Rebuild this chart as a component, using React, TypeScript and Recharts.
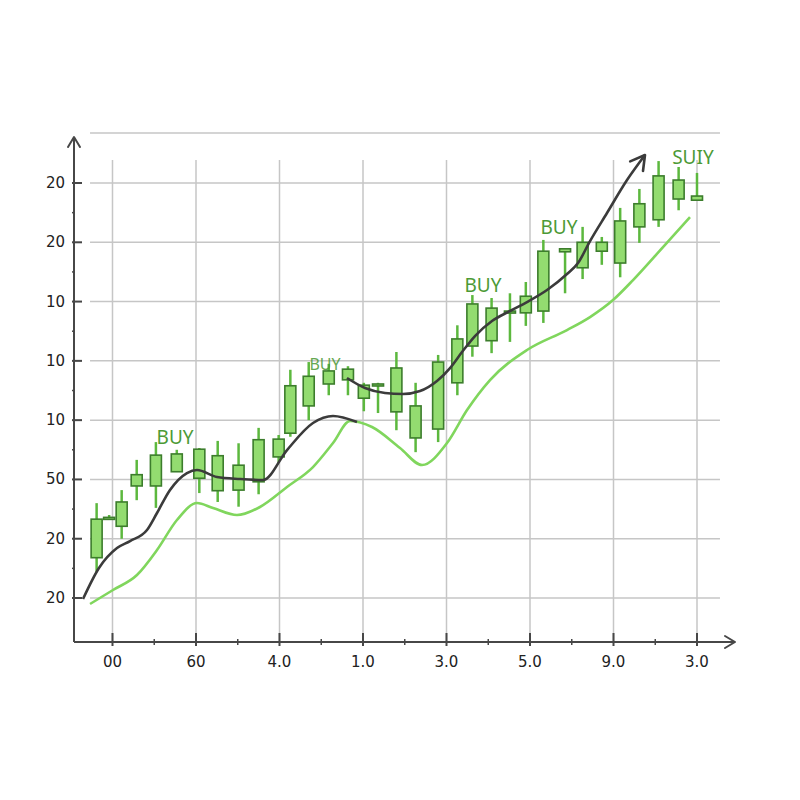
import React from 'react';
import { ComposedChart, XAxis, YAxis, Bar, Line, Scatter, ReferenceLine } from 'recharts';

// ---- candle data (time in x-grid units, prices in y-grid units) ----
const times = [-0.19, -0.04, 0.11, 0.29, 0.52, 0.77, 1.04, 1.26, 1.51, 1.75, 1.99, 2.13, 2.35, 2.59, 2.82, 3.01, 3.18, 3.4, 3.63, 3.9, 4.13, 4.31, 4.54, 4.76, 4.95, 5.16, 5.42, 5.63, 5.86, 6.08, 6.31, 6.54, 6.78, 7.0];
const opens = [1.68, 2.33, 2.21, 2.89, 2.89, 3.13, 3.02, 2.81, 2.82, 2.96, 3.38, 3.78, 4.24, 4.61, 4.68, 4.37, 4.58, 4.14, 3.7, 3.85, 4.63, 5.25, 5.34, 5.81, 5.81, 5.84, 6.84, 6.57, 6.85, 6.65, 7.26, 7.38, 7.73, 7.71];
const closes = [2.33, 2.36, 2.62, 3.08, 3.41, 3.43, 3.51, 3.4, 3.24, 3.67, 3.68, 4.58, 4.74, 4.83, 4.86, 4.59, 4.61, 4.88, 4.24, 4.98, 5.37, 5.96, 5.89, 5.84, 6.09, 6.85, 6.89, 7.0, 7.0, 7.36, 7.65, 8.12, 8.05, 7.78];
const highs = [2.6, 2.4, 2.82, 3.33, 3.63, 3.5, 3.53, 3.65, 3.61, 3.87, 3.75, 4.85, 4.98, 4.95, 4.91, 4.63, 4.63, 5.15, 4.63, 5.1, 5.6, 6.11, 6.06, 6.14, 6.33, 7.04, 6.89, 7.26, 7.09, 7.58, 7.9, 8.37, 8.27, 8.17];
const lows = [1.44, 2.33, 2.0, 2.65, 2.52, 3.13, 2.77, 2.62, 2.54, 2.75, 3.28, 3.72, 4.0, 4.42, 4.42, 4.15, 4.12, 3.83, 3.46, 3.63, 4.42, 5.07, 5.13, 5.32, 5.59, 5.64, 6.14, 6.38, 6.62, 6.41, 6.99, 7.26, 7.54, 7.7];

// ---- dark trend line (two pieces, second ends in an arrow) ----
const darkAX = [-0.353, -0.162, 0.054, 0.21, 0.413, 0.533, 0.689, 0.892, 1.012, 1.251, 1.527, 1.802, 2.09, 2.401, 2.641, 2.928];
const darkAY = [0.983, 1.506, 1.843, 1.961, 2.147, 2.434, 2.822, 3.108, 3.159, 3.041, 3.007, 2.99, 3.496, 3.952, 4.07, 3.968];
const darkBX = [2.808, 3.024, 3.263, 3.479, 3.683, 3.886, 4.042, 4.186, 4.341, 4.545, 4.76, 4.964, 5.204, 5.443, 5.575, 5.719, 5.922, 6.162, 6.377];
const darkBY = [4.711, 4.542, 4.458, 4.441, 4.491, 4.66, 4.879, 5.149, 5.419, 5.672, 5.841, 5.992, 6.195, 6.465, 6.65, 7.021, 7.494, 8.05, 8.472];

// ---- light green moving line ----
const greenX = [-0.269, 0.006, 0.293, 0.533, 0.772, 1.012, 1.204, 1.491, 1.766, 2.09, 2.401, 2.641, 2.844, 3.108, 3.443, 3.707, 4.006, 4.246, 4.521, 4.964, 5.443, 5.719, 5.994, 6.234, 6.593, 6.916];
const greenY = [0.899, 1.135, 1.388, 1.81, 2.316, 2.602, 2.518, 2.4, 2.535, 2.872, 3.209, 3.614, 3.985, 3.884, 3.53, 3.243, 3.614, 4.171, 4.677, 5.183, 5.52, 5.739, 6.026, 6.363, 6.92, 7.426];

// ---- annotations ----
const labelTexts = ['BUY', 'BUY', 'BUY', 'BUY', 'SUIY'];
const labelX = [0.749, 2.545, 4.437, 5.347, 6.951];
const labelY = [3.715, 4.947, 6.279, 7.257, 8.438];

// ---- ticks ----
const xTickLabels = ['00', '60', '4.0', '1.0', '3.0', '5.0', '9.0', '3.0'];
const yTickLabels = ['20', '20', '50', '10', '10', '10', '20', '20'];
const xMajor = [0, 1, 2, 3, 4, 5, 6, 7];
const yMajor = [1, 2, 3, 4, 5, 6, 7, 8];
const xTicks = [0, 0.5, 1, 1.5, 2, 2.5, 3, 3.5, 4, 4.5, 5, 5.5, 6, 6.5, 7];
const yTicks = [1, 1.5, 2, 2.5, 3, 3.5, 4, 4.5, 5, 5.5, 6, 6.5, 7, 7.5, 8];

// ---- layout constants ----
const X_DOMAIN: [number, number] = [-0.461, 7.455];
const Y_DOMAIN: [number, number] = [0.258, 8.776];
const H_GRID_FROM = -0.269;
const H_GRID_TO = 7.275;
const V_GRID_TOP = 8.388;
const TOP_LINE = 8.843;
const BODY_W = 11;

const candles = times.map((t, i) => ({ t, o: opens[i], c: closes[i], h: highs[i], l: lows[i] }));
const darkA = darkAX.map((t, i) => ({ t, v: darkAY[i] }));
const darkB = darkBX.map((t, i) => ({ t, v: darkBY[i] }));
const green = greenX.map((t, i) => ({ t, v: greenY[i] }));
const labels = labelTexts.map((text, i) => ({ t: labelX[i], v: labelY[i], text }));

const GRID = '#c6c6c6';
const AXIS = '#474747';
const BODY_FILL = '#93dc70';
const BODY_STROKE = '#3c7d2c';
const WICK = '#5cb83e';
const DARK = '#3b3b3b';
const LIGHT = '#80d65d';
const LABEL = '#4c9a35';
const FONT = '"DejaVu Sans", sans-serif';

const Candle = (props: any) => {
  const { x, y, width, height, payload } = props;
  if (!payload || x == null || y == null) return null;
  const { o, c, h, l } = payload;
  const hh = Math.abs(height);
  const top = Math.min(y, y + height);
  const ppu = h - l > 0 ? hh / (h - l) : 0;
  const cx = x + width / 2;
  const yO = top + (h - o) * ppu;
  const yC = top + (h - c) * ppu;
  const bTop = Math.min(yO, yC);
  const bH = Math.max(Math.abs(yO - yC), 2);
  return (
    <g>
      <line x1={cx} x2={cx} y1={top} y2={top + hh} stroke={WICK} strokeWidth={2.5} />
      <rect x={cx - BODY_W / 2} y={bTop} width={BODY_W} height={bH} fill={BODY_FILL} stroke={BODY_STROKE} strokeWidth={1.6} />
    </g>
  );
};

const LabelShape = (props: any) => {
  const { cx, cy, payload } = props;
  if (cx == null || cy == null) return null;
  const small = payload.text === 'BUY' && payload.t > 2 && payload.t < 3;
  return (
    <text x={cx} y={cy} textAnchor="middle" dominantBaseline="central" fill={LABEL}
      style={{ fontFamily: '"Noto Sans", sans-serif', fontSize: small ? 16 : 19, opacity: small ? 0.85 : 1 }}>
      {payload.text}
    </text>
  );
};

const XTick = (props: any) => {
  const { x, y, payload } = props;
  const v = payload.value;
  const idx = xMajor.indexOf(v);
  if (idx >= 0) {
    return (
      <g>
        <line x1={x} x2={x} y1={y - 9} y2={y + 4} stroke={AXIS} strokeWidth={2} />
        <text x={x} y={y + 25} textAnchor="middle" fill="#222" style={{ fontFamily: FONT, fontSize: 15 }}>{xTickLabels[idx]}</text>
      </g>
    );
  }
  return <line x1={x} x2={x} y1={y - 3} y2={y + 3} stroke={AXIS} strokeWidth={1.5} />;
};

const YTick = (props: any) => {
  const { x, y, payload } = props;
  const v = payload.value;
  const idx = yMajor.indexOf(v);
  if (idx >= 0) {
    return (
      <g>
        <line x1={x - 2} x2={x + 8} y1={y} y2={y} stroke={AXIS} strokeWidth={2} />
        <text x={x - 9} y={y} textAnchor="end" dominantBaseline="central" fill="#222" style={{ fontFamily: FONT, fontSize: 15 }}>{yTickLabels[idx]}</text>
      </g>
    );
  }
  return <line x1={x - 2} x2={x + 1} y1={y} y2={y} stroke={AXIS} strokeWidth={1.5} />;
};

export default function App() {
  return (
    <div style={{ width: 784, height: 784, position: 'relative' }}>
      <svg width={0} height={0} style={{ position: 'absolute' }}>
        <defs>
          <marker id="trendArrow" markerUnits="userSpaceOnUse" markerWidth={20} markerHeight={20} viewBox="0 0 20 20" refX={17} refY={10} orient="auto">
            <path d="M3,2 L17,10 L3,18" fill="none" stroke={DARK} strokeWidth={2.6} strokeLinecap="round" strokeLinejoin="round" />
          </marker>
          <marker id="axisArrow" markerUnits="userSpaceOnUse" markerWidth={16} markerHeight={16} viewBox="0 0 16 16" refX={13} refY={8} orient="auto-start-reverse">
            <path d="M3,2 L13,8 L3,14" fill="none" stroke={AXIS} strokeWidth={2} strokeLinecap="round" strokeLinejoin="round" />
          </marker>
        </defs>
      </svg>
      <ComposedChart width={784} height={784} data={candles} margin={{ top: 129, right: 57, bottom: 110, left: 0 }}>
        {yMajor.map((v) => (
          <ReferenceLine key={`h${v}`} segment={[{ x: H_GRID_FROM, y: v }, { x: H_GRID_TO, y: v }]} stroke={GRID} strokeWidth={1.5} ifOverflow="visible" zIndex={-50} />
        ))}
        <ReferenceLine segment={[{ x: H_GRID_FROM, y: TOP_LINE }, { x: H_GRID_TO, y: TOP_LINE }]} stroke={GRID} strokeWidth={1.5} ifOverflow="visible" zIndex={-50} />
        {xMajor.map((v) => (
          <ReferenceLine key={`v${v}`} segment={[{ x: v, y: Y_DOMAIN[0] }, { x: v, y: V_GRID_TOP }]} stroke={GRID} strokeWidth={1.5} ifOverflow="visible" zIndex={-50} />
        ))}
        <XAxis dataKey="t" type="number" domain={X_DOMAIN} allowDataOverflow ticks={xTicks} interval={0}
          tick={<XTick />} tickLine={false} tickSize={0} tickMargin={0} height={40}
          axisLine={{ stroke: AXIS, strokeWidth: 2, markerEnd: 'url(#axisArrow)' }} />
        <YAxis type="number" domain={Y_DOMAIN} allowDataOverflow ticks={yTicks} interval={0}
          tick={<YTick />} tickLine={false} tickSize={0} tickMargin={0} width={66}
          axisLine={{ stroke: AXIS, strokeWidth: 2, markerStart: 'url(#axisArrow)' }} />
        <Line data={green} dataKey="v" type="monotone" stroke={LIGHT} strokeWidth={2.6} dot={false} activeDot={false} isAnimationActive={false} />
        <Bar dataKey={(d: any) => [d.l, d.h]} barSize={11} shape={<Candle />} isAnimationActive={false} />
        <Line data={darkA} dataKey="v" type="monotone" stroke={DARK} strokeWidth={2.6} dot={false} activeDot={false} isAnimationActive={false} />
        <Line data={darkB} dataKey="v" type="monotone" stroke={DARK} strokeWidth={2.6} dot={false} activeDot={false} markerEnd="url(#trendArrow)" isAnimationActive={false} />
        <Scatter data={labels} dataKey="v" shape={<LabelShape />} isAnimationActive={false} />
      </ComposedChart>
    </div>
  );
}
